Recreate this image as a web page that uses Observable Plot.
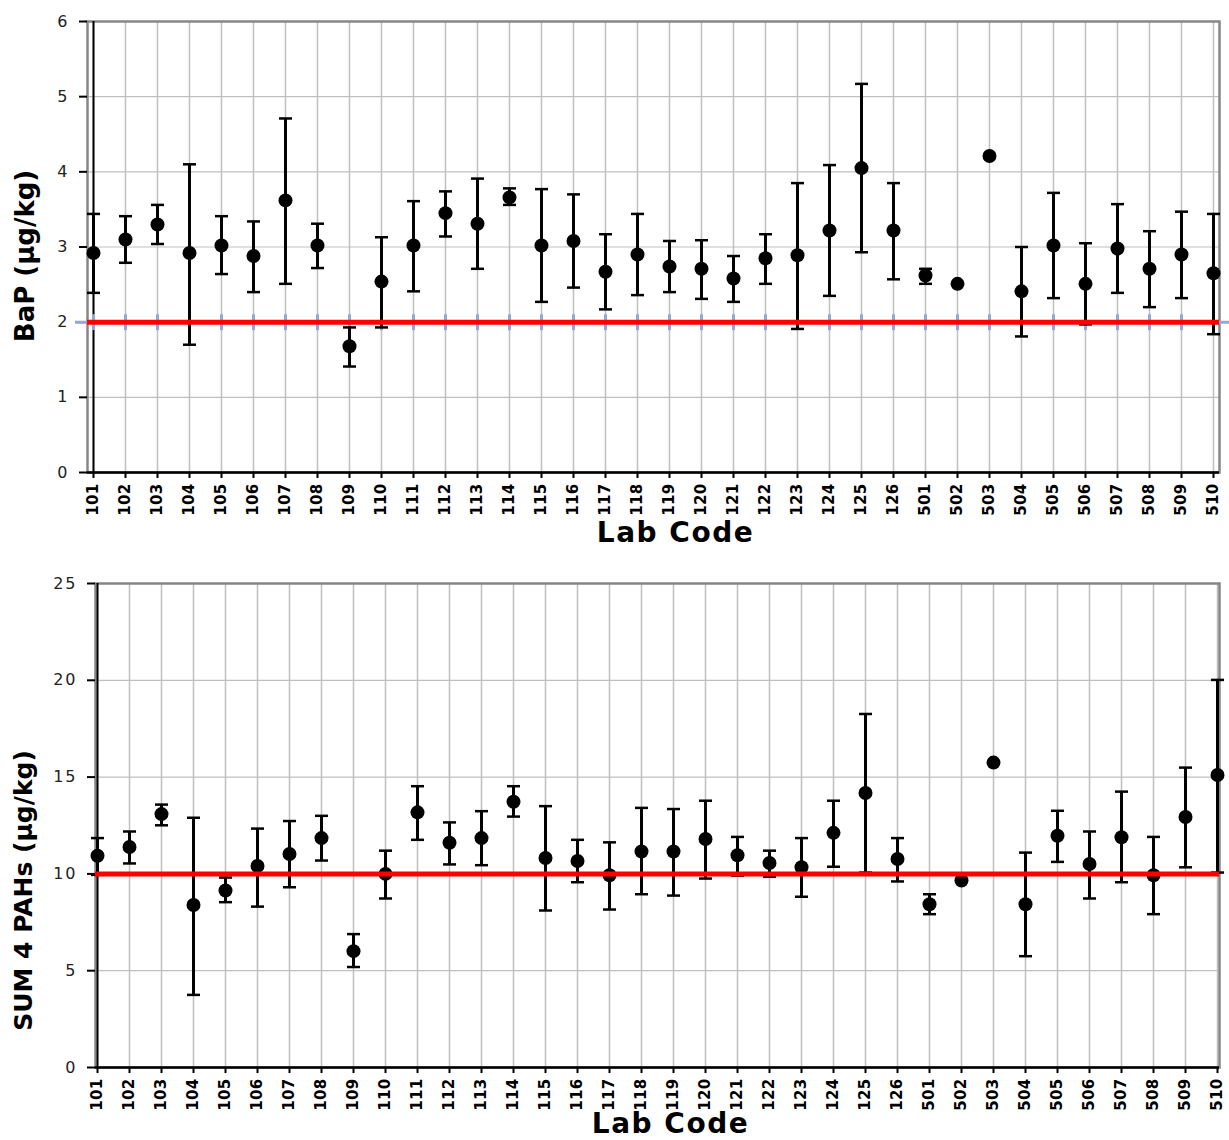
<!DOCTYPE html>
<html>
<head>
<meta charset="utf-8">
<script src="https://cdn.jsdelivr.net/npm/d3@7"></script>
<script src="https://cdn.jsdelivr.net/npm/@observablehq/plot@0.6"></script>
<style>
  body { margin: 0; background: #fff; }
  #chart svg { display: block; }
  #chart g[aria-label="y-axis tick label"], #chart g[aria-label="y-axis tick label"] text { letter-spacing: 2px; font-size: 16px; }
  #chart g[aria-label="x-axis tick label"], #chart g[aria-label="x-axis tick label"] text { font-size: 15px; font-weight: bold; letter-spacing: 0.3px; }
</style>
</head>
<body>
<div id="chart"></div>
<script>
// ---- data ----
const labs = ["101","102","103","104","105","106","107","108","109","110","111","112","113","114","115","116","117","118","119","120","121","122","123","124","125","126","501","502","503","504","505","506","507","508","509","510"];

const bapValue = [2.92,3.10,3.30,2.92,3.02,2.88,3.62,3.02,1.68,2.54,3.02,3.45,3.31,3.66,3.02,3.08,2.67,2.90,2.74,2.71,2.58,2.85,2.89,3.22,4.05,3.22,2.62,2.51,4.21,2.41,3.02,2.51,2.98,2.71,2.90,2.65];
const bapLow   = [2.39,2.79,3.04,1.70,2.64,2.40,2.51,2.72,1.41,1.93,2.41,3.14,2.71,3.56,2.27,2.46,2.17,2.36,2.40,2.31,2.27,2.51,1.91,2.35,2.93,2.57,2.51,null,null,1.81,2.32,1.97,2.39,2.20,2.32,1.84];
const bapHigh  = [3.44,3.41,3.56,4.10,3.41,3.34,4.71,3.31,1.93,3.13,3.61,3.74,3.91,3.78,3.77,3.70,3.17,3.44,3.08,3.09,2.88,3.17,3.85,4.09,5.17,3.85,2.71,null,null,3.00,3.72,3.05,3.57,3.21,3.47,3.44];
const bapRef = 2;
const bapTicks = [0,1,2,3,4,5,6];

const pahValue = [10.94,11.39,13.09,8.39,9.14,10.41,11.03,11.85,6.01,10.00,13.18,11.61,11.85,13.73,10.82,10.67,9.93,11.16,11.16,11.80,10.96,10.56,10.34,12.12,14.18,10.77,8.43,9.66,15.75,8.43,11.97,10.51,11.89,9.93,12.94,15.11];
const pahLow   = [9.95,10.54,12.51,3.75,8.54,8.31,9.31,10.69,5.19,8.73,11.76,10.49,10.45,12.96,8.11,9.57,8.16,8.95,8.88,9.76,9.91,9.85,8.82,10.37,10.07,9.61,7.92,null,null,5.75,10.62,8.73,9.57,7.92,10.34,10.07];
const pahHigh  = [11.85,12.19,13.58,12.90,9.81,12.34,12.73,13.00,6.89,11.20,14.53,12.66,13.24,14.53,13.50,11.76,11.63,13.41,13.35,13.78,11.91,11.20,11.85,13.78,18.26,11.85,8.95,null,null,11.10,13.26,12.19,14.25,11.91,15.49,20.02];
const pahRef = 10;
const pahTicks = [0,5,10,15,20,25];

// ---- custom symbols ----
const capSymbol = { draw(ctx) { ctx.moveTo(-6.5, 0); ctx.lineTo(6.5, 0); } };
const dashSymbol = { draw(ctx) { ctx.moveTo(0, -8); ctx.lineTo(0, 8); } };

function panel(o) {
  const rows = labs.map((lab, i) => ({lab, v: o.values[i], lo: o.lows[i], hi: o.highs[i]}));
  const err = rows.filter(d => d.lo != null && d.hi != null);
  const marks = [
    Plot.gridY(o.ticks, {stroke: "#bfbfbf", strokeOpacity: 1, strokeWidth: 1.2}),
    Plot.gridX(labs, {stroke: "#bfbfbf", strokeOpacity: 1, strokeWidth: 1.5}),
    Plot.frame({stroke: "#868686", strokeWidth: 2.5}),
    Plot.ruleX([labs[0]], {stroke: "#000", strokeWidth: 2}),
    Plot.ruleY([o.ticks[0]], {stroke: "#000", strokeWidth: 2.5}),
    Plot.axisY(o.ticks, {tickSize: 8, tickPadding: 10, tickFormat: d => String(d), fill: "#222", stroke: "#000", strokeWidth: 2, label: null}),
    Plot.axisX(labs, {tickSize: 6, tickPadding: 5, tickRotate: -90, fill: "#000", stroke: "#000", strokeWidth: 2, label: null})
  ];
  if (o.blue) {
    marks.push(
      Plot.ruleY([o.ref], {stroke: "#8eaadb", strokeWidth: 3, insetLeft: -12, insetRight: -10}),
      Plot.dot(labs, {x: d => d, y: () => o.ref, symbol: dashSymbol, stroke: "#8eaadb", strokeWidth: 3, fill: "none"})
    );
  }
  marks.push(
    Plot.ruleX(err, {x: "lab", y1: "lo", y2: "hi", stroke: "#000", strokeWidth: 3}),
    Plot.dot(err, {x: "lab", y: "hi", symbol: capSymbol, stroke: "#000", strokeWidth: 2.5, fill: "none"}),
    Plot.dot(err, {x: "lab", y: "lo", symbol: capSymbol, stroke: "#000", strokeWidth: 2.5, fill: "none"}),
    Plot.dot(rows, {x: "lab", y: "v", r: 7, fill: "#000", stroke: "none"}),
    Plot.ruleY([o.ref], {stroke: "#ff0000", strokeWidth: 5}),
    Plot.text([o.yLabel], {frameAnchor: "left", textAnchor: "middle", rotate: -90, dx: o.labelDx, dy: o.labelDy, fontSize: o.labelSize, fontWeight: "bold", fill: "#000"}),
    Plot.text(["Lab Code"], {frameAnchor: "bottom", textAnchor: "middle", dx: o.codeDx, dy: o.codeDy, lineAnchor: "bottom", fontSize: 28, fontWeight: "bold", fill: "#000"})
  );
  const svg = Plot.plot({
    width: 1229,
    height: o.height,
    marginLeft: o.marginLeft,
    marginRight: 10,
    marginTop: o.marginTop,
    marginBottom: o.marginBottom,
    x: {type: "point", domain: labs, padding: 0},
    y: {domain: [o.ticks[0], o.ticks[o.ticks.length - 1]]},
    style: {fontFamily: "'DejaVu Sans', Verdana, sans-serif", background: "#fff", overflow: "visible", color: "#000"},
    marks
  });
  svg.querySelectorAll('g[aria-label="y-axis tick label"] text').forEach(t => {
    t.style.fontSize = "16px"; t.style.letterSpacing = "2px";
  });
  svg.querySelectorAll('g[aria-label="x-axis tick label"] text').forEach(t => {
    t.style.fontSize = "15px"; t.style.fontWeight = "bold";
  });
  svg.querySelectorAll("text").forEach(t => {
    if (t.textContent === "Lab Code") t.style.letterSpacing = "1.5px";
  });
  return svg;
}

const chart = document.getElementById("chart");
chart.appendChild(panel({
  values: bapValue, lows: bapLow, highs: bapHigh, ref: bapRef, ticks: bapTicks,
  yLabel: "BaP (µg/kg)", labelSize: 26, labelDx: -62, labelDy: 9,
  height: 555, marginLeft: 87, marginTop: 21, marginBottom: 83,
  codeDx: 22, codeDy: 69, blue: true
}));
chart.appendChild(panel({
  values: pahValue, lows: pahLow, highs: pahHigh, ref: pahRef, ticks: pahTicks,
  yLabel: "SUM 4 PAHs (µg/kg)", labelSize: 25, labelDx: -72, labelDy: 65,
  height: 585, marginLeft: 95, marginTop: 28, marginBottom: 73,
  codeDx: 13, codeDy: 65, blue: false
}));
</script>
</body>
</html>
